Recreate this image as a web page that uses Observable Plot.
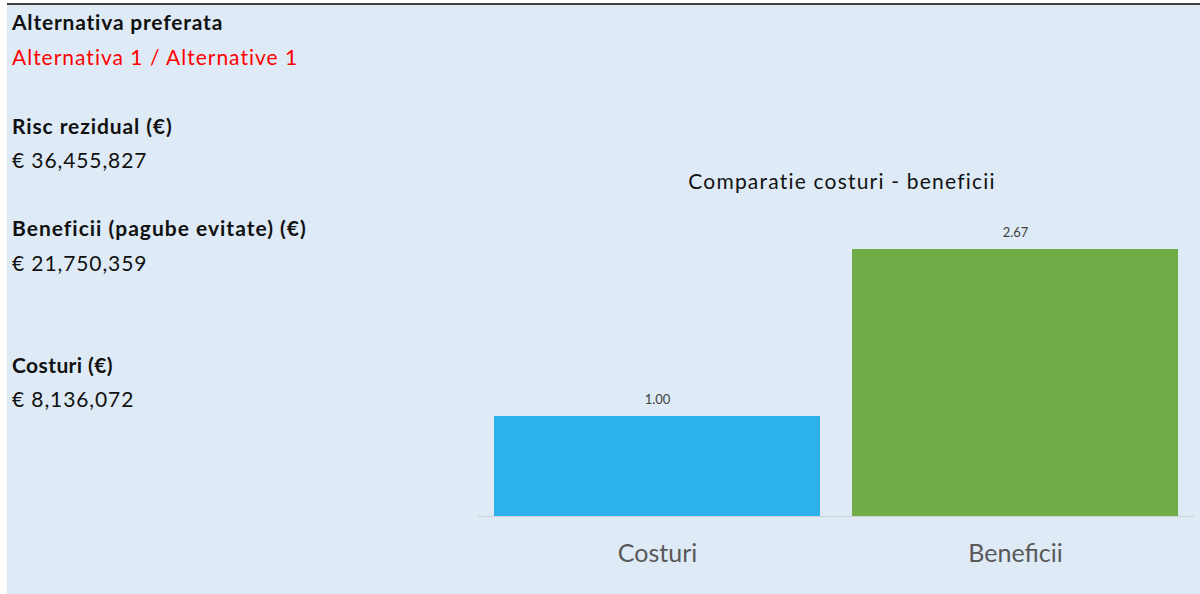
<!DOCTYPE html>
<html>
<head>
<meta charset="utf-8">
<script src="https://cdn.jsdelivr.net/npm/d3@7"></script>
<script src="https://cdn.jsdelivr.net/npm/@observablehq/plot@0.6"></script>
<style>
  html, body { margin: 0; padding: 0; background: #ffffff; }
  body { width: 1200px; height: 594px; position: relative; overflow: hidden; font-family: Lato, "Open Sans", sans-serif; }
  #topline { position: absolute; left: 7px; top: 3px; width: 1193px; height: 2px; background: #3f3f3f; }
  #panel { position: absolute; left: 7px; top: 5px; width: 1193px; height: 589px; background: #deebf7; }
  .t { position: absolute; left: 12px; font-size: 21px; white-space: nowrap; color: #111; line-height: 1; letter-spacing: 0.6px; }
  .b { font-weight: bold; }
  #title { position: absolute; left: 842px; top: 170px; transform: translateX(-50%); font-size: 21px; letter-spacing: 1.2px; color: #111; white-space: nowrap; line-height: 1; }
  #chart { position: absolute; left: 470px; top: 160px; }
</style>
</head>
<body>
<div id="topline"></div>
<div id="panel"></div>
<div id="left"></div>
<div id="title"></div>
<div id="chart"></div>
<script>
// ---- data ----
const preferredLabel = "Alternativa preferata";
const preferredValue = "Alternativa 1 / Alternative 1";
const infoLabels = ["Risc rezidual (€)", "Beneficii (pagube evitate) (€)", "Costuri (€)"];
const infoValues = ["€ 36,455,827", "€ 21,750,359", "€ 8,136,072"];
const chartTitle = "Comparatie costuri - beneficii";
const categories = ["Costuri", "Beneficii"];
const ratios = [1.00, 2.67];
const barColors = ["#2db1ed", "#70ad47"];

// ---- left text panel ----
const left = document.getElementById("left");
function addText(txt, top, cls, color, spacing) {
  const d = document.createElement("div");
  d.className = "t " + (cls || "");
  d.style.top = top + "px";
  if (color) d.style.color = color;
  if (spacing != null) d.style.letterSpacing = spacing + "px";
  d.textContent = txt;
  left.appendChild(d);
}
addText(preferredLabel, 11, "b", null, 0.8);
addText(preferredValue, 46, "", "#ff0000", 1.0);
const labelTops = [115, 217, 354];
const valueTops = [149, 252, 388];
const labelSpacing = [0.9, 1.0, 0.4];
infoLabels.forEach((l, i) => addText(l, labelTops[i], "b", null, labelSpacing[i]));
infoValues.forEach((v, i) => addText(v, valueTops[i], "", null, 0.9));

document.getElementById("title").textContent = chartTitle;

// ---- chart ----
const data = categories.map((c, i) => ({category: c, value: ratios[i], color: barColors[i]}));

const plot = Plot.plot({
  width: 730,
  height: 434,
  marginLeft: 8,
  marginRight: 6,
  marginTop: 56,
  marginBottom: 78,
  style: {background: "transparent", fontFamily: "Lato, 'Open Sans', sans-serif"},
  x: {domain: categories, paddingInner: 0.09, paddingOuter: 0.045, label: null},
  y: {domain: [0, 3], axis: null},
  marks: [
    Plot.barY(data, {x: "category", y: "value", fill: "color"}),
    Plot.ruleY([0], {stroke: "#d0d0d0", strokeWidth: 1}),
    Plot.text(data, {x: "category", y: "value", text: d => d.value.toFixed(2), lineAnchor: "bottom", dy: -13, fontSize: 13, fill: "#404040"}),
    Plot.axisX({tickSize: 0, tickPadding: 28, fontSize: 25, color: "#595959", label: null})
  ]
});
document.getElementById("chart").appendChild(plot);
</script>
</body>
</html>
